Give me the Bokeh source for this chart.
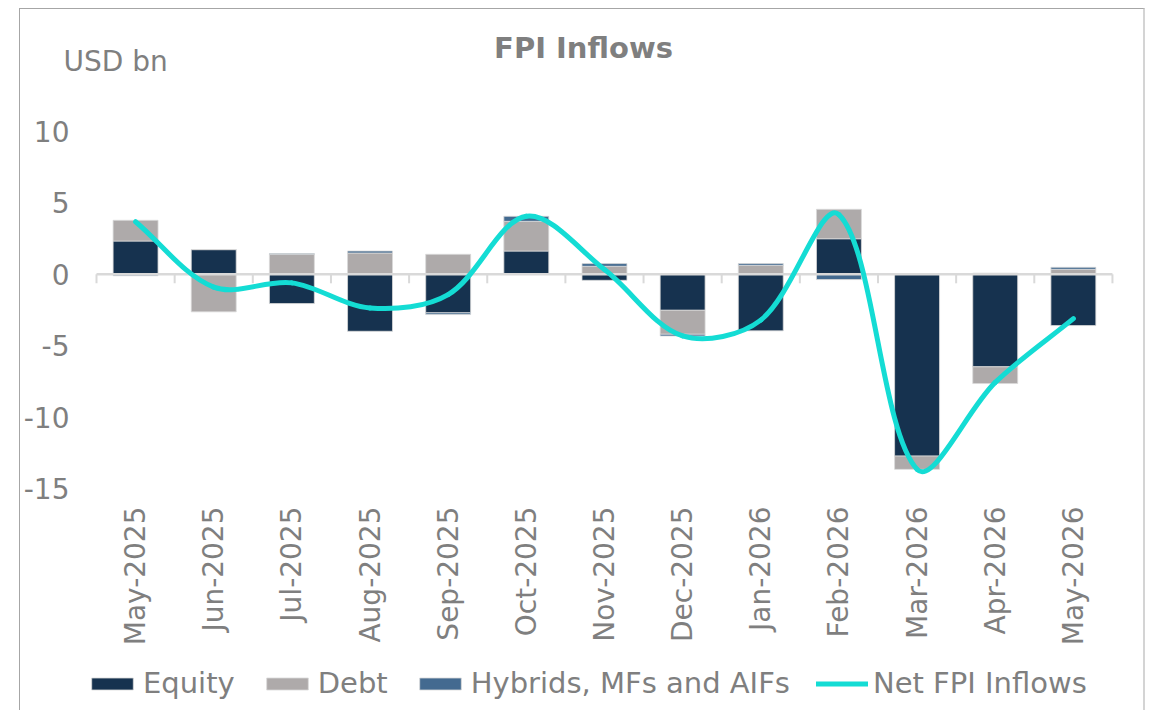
import math
import numpy as np
from bokeh.plotting import figure
from bokeh.models import Label, Legend, LegendItem, Range1d, ColumnDataSource
from bokeh.embed import file_html
from bokeh.resources import INLINE
from bokeh.core.properties import value

months = ["May-2025", "Jun-2025", "Jul-2025", "Aug-2025", "Sep-2025", "Oct-2025", "Nov-2025",
          "Dec-2025", "Jan-2026", "Feb-2026", "Mar-2026", "Apr-2026", "May-2026"]
equity = [2.33, 1.73, -2.05, -3.99, -2.70, 1.63, -0.42, -2.52, -3.96, 2.49, -12.73, -6.48, -3.59]
debt = [1.45, -2.63, 1.40, 1.49, 1.40, 2.08, 0.56, -1.68, 0.63, 2.06, -0.93, -1.17, 0.35]
hybrids = [-0.10, 0.00, 0.05, 0.14, -0.12, 0.35, 0.19, -0.12, 0.12, -0.37, 0.00, 0.08, 0.14]
net = [3.68, -0.90, -0.60, -2.36, -1.42, 4.06, 0.33, -4.32, -3.21, 4.18, -13.66, -7.57, -3.10]
y_ticks = [-15, -10, -5, 0, 5, 10]
y_tick_labels = ["-15", "-10", "-5", "0", "5", "10"]

FONT = "DejaVu Sans"
TXT = "#7f7f7f"
GRID = "#d9d9d9"

n = len(months)
x = np.arange(n)

# layout (pixels)
W, H = 1126, 702
PX_X = 78.15           # px per category
PX_Y = 14.28           # px per y unit
AREA_LEFT, AREA_TOP = 76, 122   # plot-area offset in canvas
Y_MIN, Y_MAX = min(y_ticks), max(y_ticks)

x_start = -0.5 - AREA_LEFT / PX_X
x_end = x_start + W / PX_X
y_top = Y_MAX + AREA_TOP / PX_Y
y_bot = y_top - H / PX_Y

p = figure(width=W, height=H, output_backend="svg", toolbar_location=None,
           x_range=Range1d(x_start, x_end), y_range=Range1d(y_bot, y_top),
           min_border=0)
p.styles = {"margin-left": "19px", "margin-top": "8px",
            "border-top": "1px solid #a6a6a6", "border-left": "1px solid #a6a6a6",
            "border-right": "2px solid #d4d4d4"}
p.outline_line_color = None
p.xgrid.visible = False
p.ygrid.visible = False
p.xaxis.visible = False
p.yaxis.visible = False
p.background_fill_color = "white"
p.border_fill_color = "white"

# stacked bars (positives up, negatives down)
series = [("Equity", equity, "#16324f"), ("Debt", debt, "#aeaaaa"),
          ("Hybrids, MFs and AIFs", hybrids, "#436a90")]
pos = np.zeros(n)
neg = np.zeros(n)
items = []
for label, vals, color in series:
    v = np.array(vals, dtype=float)
    bottom = np.where(v >= 0, pos, neg)
    top = bottom + v
    pos = np.where(v >= 0, top, pos)
    neg = np.where(v < 0, top, neg)
    r = p.vbar(x=x, bottom=bottom, top=top, width=0.575, fill_color=color,
               line_color="#d9d9d9", line_width=0.8)
    items.append(LegendItem(label=label, renderers=[r]))

# zero axis line and category boundary ticks
p.segment(x0=[-0.5], y0=[0], x1=[n - 0.5], y1=[0], line_color=GRID, line_width=2.5)
bounds = np.arange(n + 1) - 0.5
p.segment(x0=bounds, y0=np.zeros(n + 1), x1=bounds, y1=np.full(n + 1, -9 / PX_Y),
          line_color=GRID, line_width=2)

# smoothed net line (Excel-like bezier smoothing)
P = np.column_stack([x.astype(float), np.array(net, dtype=float)])
def dist(a, b):
    return np.hypot((a[0] - b[0]) * PX_X, (a[1] - b[1]) * PX_Y)
x0s, y0s, x1s, y1s, cx0s, cy0s, cx1s, cy1s = ([] for _ in range(8))
for i in range(n - 1):
    p0 = P[max(i - 1, 0)]; p1 = P[i]; p2 = P[i + 1]; p3 = P[min(i + 2, n - 1)]
    d01, d12, d23 = dist(p0, p1), dist(p1, p2), dist(p2, p3)
    c1 = p1 + (p2 - p0) * (d12 / (d01 + d12)) / 3
    c2 = p2 - (p3 - p1) * (d12 / (d12 + d23)) / 3
    x0s.append(p1[0]); y0s.append(p1[1]); x1s.append(p2[0]); y1s.append(p2[1])
    cx0s.append(c1[0]); cy0s.append(c1[1]); cx1s.append(c2[0]); cy1s.append(c2[1])
rl = p.bezier(x0=x0s, y0=y0s, x1=x1s, y1=y1s, cx0=cx0s, cy0=cy0s, cx1=cx1s, cy1=cy1s,
              line_color="#14dcd4", line_width=5, line_cap="round")
items.append(LegendItem(label="Net FPI Inflows", renderers=[rl]))

# y tick labels
ysrc = ColumnDataSource(dict(x=np.full(len(y_ticks), -0.5 - 27 / PX_X), y=y_ticks,
                             text=y_tick_labels))
p.text(x="x", y="y", text="text", source=ysrc, text_font=value(FONT),
       text_font_size="28px", text_color=TXT, text_align="right", text_baseline="middle")

# category labels (vertical, reading upwards)
xsrc = ColumnDataSource(dict(x=x, y=np.full(n, Y_MIN - 18 / PX_Y), text=months))
p.text(x="x", y="y", text="text", source=xsrc, angle=math.pi / 2, text_font=value(FONT),
       text_font_size="28px", text_color=TXT, text_align="right", text_baseline="middle")

legend = Legend(items=items, orientation="horizontal", location=(66, 11),
                label_text_font=FONT, label_text_font_size="29px", label_text_color=TXT,
                glyph_width=52, glyph_height=15, label_standoff=5, spacing=26,
                padding=0, margin=0, border_line_color=None, background_fill_alpha=0)
p.add_layout(legend, "center")

# title and unit label
p.add_layout(Label(x=x_start + 563 / PX_X, y=y_top - 38.5 / PX_Y, text="FPI Inflows",
                   text_font=FONT, text_font_style="bold", text_font_size="29px",
                   text_color=TXT, text_align="center", text_baseline="alphabetic"))
p.add_layout(Label(x=x_start + 43 / PX_X, y=y_top - 52 / PX_Y, text="USD bn",
                   text_font=FONT, text_font_size="28px", text_color=TXT,
                   text_align="left", text_baseline="alphabetic"))

open("out.html", "w").write(file_html(p, INLINE))
